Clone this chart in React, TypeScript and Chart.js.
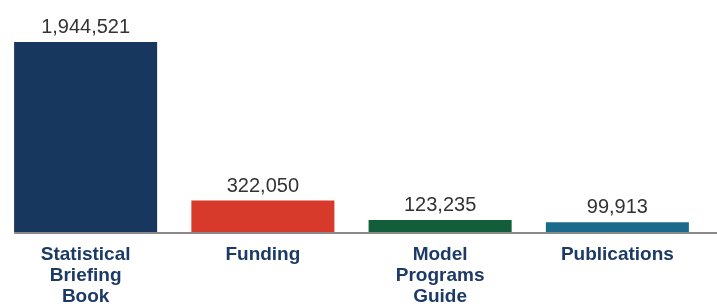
import React, { useEffect, useRef } from "react";
import { Chart, registerables } from "chart.js";

Chart.register(...registerables);

const categories: (string | string[])[] = [
  ["Statistical", "Briefing", "Book"],
  "Funding",
  ["Model", "Programs", "Guide"],
  "Publications",
];
const values: number[] = [1944521, 322050, 123235, 99913];
const barColors: string[] = ["#18375f", "#d7392a", "#125e3b", "#1b6a8b"];
const labelColor = "#1c3a66";

const valueLabels = {
  id: "valueLabels",
  afterDatasetsDraw(chart: any) {
    const ctx = chart.ctx;
    const meta = chart.getDatasetMeta(0);
    ctx.save();
    ctx.font = "20px 'Liberation Sans', Arial, sans-serif";
    ctx.fillStyle = "#333333";
    ctx.textAlign = "center";
    ctx.textBaseline = "alphabetic";
    meta.data.forEach((el: any, i: number) => {
      const v = chart.data.datasets[0].data[i] as number;
      ctx.fillText(v.toLocaleString("en-US"), el.x, el.y - 9);
    });
    // baseline axis line
    const first = meta.data[0];
    const y = chart.scales.y.getPixelForValue(0);
    ctx.strokeStyle = "#8a8a8a";
    ctx.lineWidth = 2;
    ctx.beginPath();
    ctx.moveTo(first.x - first.width / 2, y + 1);
    ctx.lineTo(chart.width, y + 1);
    ctx.stroke();
    ctx.restore();
  },
};

export default function App() {
  const ref = useRef<HTMLCanvasElement | null>(null);
  useEffect(() => {
    if (!ref.current) return;
    const chart = new Chart(ref.current, {
      type: "bar",
      data: {
        labels: categories,
        datasets: [
          {
            data: values,
            backgroundColor: barColors,
            borderWidth: 0,
            barPercentage: 0.807,
            categoryPercentage: 1,
          },
        ],
      },
      options: {
        animation: false,
        responsive: true,
        maintainAspectRatio: false,
        layout: { padding: { top: 42, right: 11, left: 0, bottom: 0 } },
        plugins: {
          legend: { display: false },
          tooltip: { enabled: false },
        },
        scales: {
          y: { display: false, min: 0, max: values[0] },
          x: {
            grid: { display: false, drawTicks: false },
            border: { display: false },
            ticks: {
              color: labelColor,
              padding: 13,
              font: {
                family: "'Liberation Sans', Arial, sans-serif",
                size: 19,
                weight: "bold",
                lineHeight: 1.08,
              },
              maxRotation: 0,
              autoSkip: false,
            },
            afterFit: (scale: any) => {
              scale.height = 72;
            },
          },
        },
      },
      plugins: [valueLabels],
    });
    return () => chart.destroy();
  }, []);
  return (
    <div
      style={{
        position: "fixed",
        left: -3,
        top: 0,
        width: 720,
        height: 304,
        background: "#ffffff",
      }}
    >
      <canvas ref={ref} />
    </div>
  );
}
